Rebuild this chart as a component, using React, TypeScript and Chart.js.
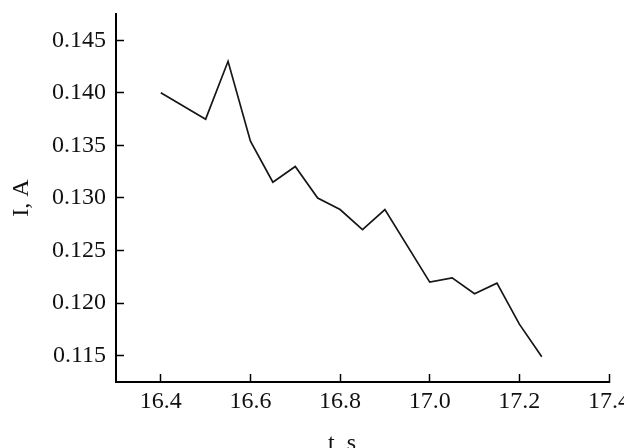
import React, { useEffect, useRef } from "react";
import { Chart, registerables } from "chart.js";

Chart.register(...registerables);

const TIME_S = [16.4, 16.5, 16.55, 16.6, 16.65, 16.7, 16.75, 16.8, 16.85, 16.9, 17.0, 17.05, 17.1, 17.15, 17.2, 17.25];
const CURRENT_A = [0.14, 0.1375, 0.143, 0.1354, 0.1315, 0.133, 0.13, 0.1289, 0.127, 0.1289, 0.122, 0.1224, 0.1209, 0.1219, 0.118, 0.1149];
const X_TICKS = [16.4, 16.6, 16.8, 17.0, 17.2, 17.4];
const Y_TICKS = [0.115, 0.12, 0.125, 0.13, 0.135, 0.14, 0.145];
const X_TITLE = "t, s";
const Y_TITLE = "I, A";

const FONT_FAMILY = "'Liberation Serif', 'Times New Roman', serif";
const FONT_SIZE = 24;

export default function App() {
  const ref = useRef<HTMLCanvasElement | null>(null);

  useEffect(() => {
    if (!ref.current) return;
    const xTitlePlugin = {
      id: "xTitle",
      afterDraw(chart: any) {
        const ctx = chart.ctx;
        ctx.save();
        ctx.font = `${FONT_SIZE}px ${FONT_FAMILY}`;
        ctx.fillStyle = "#111";
        ctx.textAlign = "center";
        ctx.textBaseline = "alphabetic";
        ctx.fillText(X_TITLE, 342, 450);
        ctx.restore();
      },
    };
    const chart = new Chart(ref.current, {
      type: "line",
      data: {
        datasets: [
          {
            data: TIME_S.map((t, i) => ({ x: t, y: CURRENT_A[i] })),
            borderColor: "#161616",
            borderWidth: 1.7,
            pointRadius: 0,
            tension: 0,
            fill: false,
          },
        ],
      },
      options: {
        animation: false,
        responsive: false,
        layout: { padding: { top: 14, right: 15, left: 0, bottom: 0 } },
        plugins: { legend: { display: false }, tooltip: { enabled: false } },
        scales: {
          x: {
            type: "linear",
            min: 16.3,
            max: 17.4,
            afterBuildTicks: (s: any) => {
              s.ticks = X_TICKS.map((v) => ({ value: v }));
            },
            afterFit: (s: any) => {
              s.height = 66;
              s.paddingLeft = 0;
              s.paddingRight = 0;
            },
            border: { display: true, color: "#000", width: 2 },
            grid: { drawOnChartArea: false, drawTicks: true, tickLength: -8, tickColor: "#000", tickWidth: 1.5 },
            ticks: {
              autoSkip: false,
              maxRotation: 0,
              padding: 13,
              color: "#111",
              font: { family: FONT_FAMILY, size: FONT_SIZE },
              callback: (v: any) => Number(v).toFixed(1),
            },
          },
          y: {
            type: "linear",
            min: 0.1125,
            max: 0.1475,
            afterBuildTicks: (s: any) => {
              s.ticks = Y_TICKS.map((v) => ({ value: v }));
            },
            afterFit: (s: any) => {
              s.width = 116;
              s.paddingTop = 0;
              s.paddingBottom = 0;
            },
            border: { display: true, color: "#000", width: 2 },
            grid: { drawOnChartArea: false, drawTicks: true, tickLength: -8, tickColor: "#000", tickWidth: 1.5 },
            title: {
              display: true,
              text: Y_TITLE,
              color: "#111",
              font: { family: FONT_FAMILY, size: FONT_SIZE },
              padding: { top: 7, bottom: 0 },
            },
            ticks: {
              autoSkip: false,
              padding: 18,
              color: "#111",
              font: { family: FONT_FAMILY, size: FONT_SIZE },
              callback: (v: any) => Number(v).toFixed(3),
            },
          },
        },
      },
      plugins: [xTitlePlugin],
    });
    return () => chart.destroy();
  }, []);

  return (
    <div style={{ position: "fixed", left: 0, top: 0, width: 624, height: 448, background: "#fff" }}>
      <canvas ref={ref} width={624} height={448} style={{ display: "block" }} />
    </div>
  );
}
